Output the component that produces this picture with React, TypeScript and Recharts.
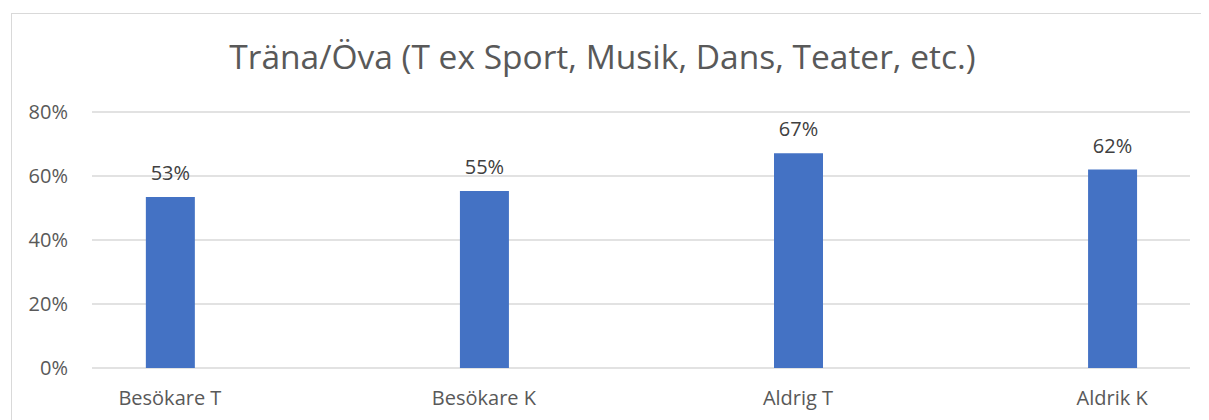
import React from "react";
import { BarChart, Bar, XAxis, YAxis, CartesianGrid, LabelList } from "recharts";

const title = "Träna/Öva (T ex Sport, Musik, Dans, Teater, etc.)";
const categories = ["Besökare T", "Besökare K", "Aldrig T", "Aldrik K"];
const values = [0.534, 0.553, 0.671, 0.62];
const yTicks = [0, 0.2, 0.4, 0.6, 0.8];

const data = categories.map((name, i) => ({ idx: i, name, value: values[i] }));

const FONT = "'Open Sans', sans-serif";
const pct = (v: number) => `${Math.round(v * 100)}%`;

export default function App() {
  return (
    <div style={{ position: "relative", width: 1201, height: 412, overflow: "hidden", background: "#fff" }}>
      <div
        style={{
          position: "absolute",
          left: 3,
          top: 5,
          width: 1400,
          height: 600,
          border: "1px solid #d9d9d9",
          boxSizing: "border-box",
        }}
      />
      <div
        style={{
          position: "absolute",
          left: 0,
          top: 28,
          width: 1189,
          textAlign: "center",
          fontFamily: FONT,
          fontSize: 33.5,
          color: "#595959",
          lineHeight: "40px",
          whiteSpace: "nowrap",
        }}
      >
        {title}
      </div>
      <div style={{ position: "absolute", left: 0, top: 0 }}>
        <BarChart width={1201} height={412} data={data} margin={{ top: 104, right: 19, bottom: 22, left: 0 }}>
          <CartesianGrid vertical={false} stroke="#d9d9d9" strokeWidth={1.3} />
          <XAxis
            dataKey="idx"
            type="number"
            domain={[-0.248, 3.248]}
            ticks={[0, 1, 2, 3]}
            allowDataOverflow
            tickFormatter={(i: number) => categories[i]}
            axisLine={false}
            tickLine={false}
            tickSize={0}
            tickMargin={23}
            height={30}
            tick={{ fill: "#595959", fontSize: 20, fontFamily: FONT }}
            interval={0}
          />
          <YAxis
            width={84}
            domain={[0, 0.8]}
            ticks={yTicks}
            tickFormatter={pct}
            axisLine={false}
            tickLine={false}
            tickSize={0}
            tickMargin={24}
            tick={{ fill: "#595959", fontSize: 20, fontFamily: FONT }}
          />
          <Bar dataKey="value" fill="#4472c4" barSize={49} isAnimationActive={false}>
            <LabelList
              dataKey="value"
              position="top"
              offset={17}
              formatter={(v: number) => pct(v)}
              style={{ fill: "#404040", fontSize: 20, fontFamily: FONT }}
            />
          </Bar>
        </BarChart>
      </div>
    </div>
  );
}
